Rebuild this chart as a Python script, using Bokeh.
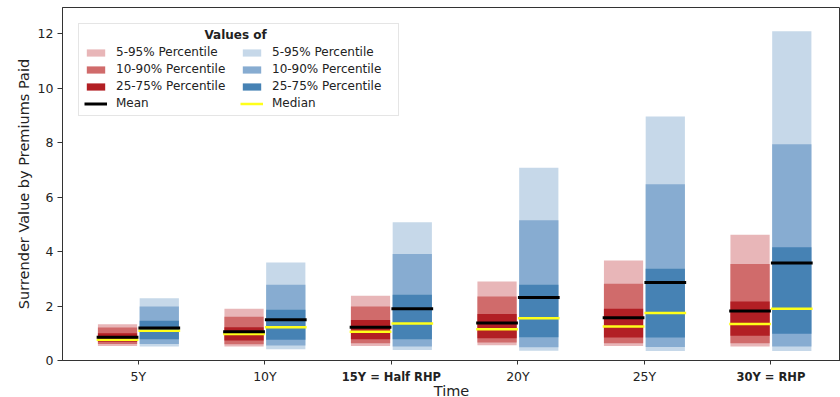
from bokeh.plotting import figure
from bokeh.layouts import column
from bokeh.models import Range1d, Legend, LegendItem, Label, FixedTicker
from bokeh.core.properties import value
from bokeh.embed import file_html
from bokeh.resources import INLINE

# ---------------- data ----------------
times = ["5Y", "10Y", "15Y = Half RHP", "20Y", "25Y", "30Y = RHP"]
bold_ticks = [False, False, True, False, False, True]
y_ticks = [0, 2, 4, 6, 8, 10, 12]

red_p5 = [0.53, 0.51, 0.53, 0.56, 0.53, 0.51]
red_p10 = [0.61, 0.60, 0.63, 0.66, 0.63, 0.63]
red_p25 = [0.69, 0.73, 0.78, 0.82, 0.84, 0.91]
red_p75 = [1.00, 1.22, 1.49, 1.71, 1.90, 2.17]
red_p90 = [1.21, 1.61, 1.98, 2.35, 2.82, 3.54]
red_p95 = [1.33, 1.90, 2.38, 2.90, 3.67, 4.62]
red_mean = [0.85, 1.06, 1.22, 1.38, 1.57, 1.82]
red_median = [0.76, 0.97, 1.06, 1.15, 1.25, 1.34]

blue_p5 = [0.51, 0.41, 0.39, 0.36, 0.35, 0.35]
blue_p10 = [0.61, 0.55, 0.51, 0.49, 0.50, 0.51]
blue_p25 = [0.78, 0.76, 0.78, 0.85, 0.84, 0.98]
blue_p75 = [1.46, 1.86, 2.41, 2.78, 3.37, 4.16]
blue_p90 = [1.98, 2.78, 3.91, 5.15, 6.47, 7.94]
blue_p95 = [2.29, 3.60, 5.08, 7.08, 8.96, 12.09]
blue_mean = [1.19, 1.50, 1.90, 2.31, 2.86, 3.58]
blue_median = [1.09, 1.22, 1.36, 1.55, 1.74, 1.90]

legend_title = "Values of"
x_title = "Time"
y_title = "Surrender Value by Premiums Paid"

# ---------------- style / layout ----------------
FONT = "DejaVu Sans"
TXT = "#222222"
AX = "#333333"
RED = ["#e8b6b8", "#d06b6b", "#b21f24"]
BLUE = ["#c6d8e9", "#87acd1", "#4682b4"]
OFF = 0.165
BW = 0.31

xs = list(range(len(times)))
xr = [x - OFF for x in xs]
xb = [x + OFF for x in xs]
x_range = Range1d(-0.6, 5.55)

p = figure(width=840, height=368, output_backend="svg", toolbar_location=None,
           x_range=x_range, y_range=Range1d(0, 12.96),
           min_border_left=62, min_border_right=0, min_border_top=7, min_border_bottom=8)
p.background_fill_color = "white"
p.border_fill_color = "white"
p.outline_line_color = AX
p.outline_line_width = 1
p.xgrid.visible = False
p.ygrid.visible = False

def bars(x, lo, hi, col):
    return p.vbar(x=x, width=BW, bottom=lo, top=hi, fill_color=col, line_color=None)

r5 = bars(xr, red_p5, red_p95, RED[0])
r10 = bars(xr, red_p10, red_p90, RED[1])
r25 = bars(xr, red_p25, red_p75, RED[2])
b5 = bars(xb, blue_p5, blue_p95, BLUE[0])
b10 = bars(xb, blue_p10, blue_p90, BLUE[1])
b25 = bars(xb, blue_p25, blue_p75, BLUE[2])

half = BW / 2 + 0.01
med_r = p.segment(x0=[x - half for x in xr], x1=[x + half for x in xr], y0=red_median, y1=red_median,
                  line_color="#ffff1a", line_width=2.5)
med_b = p.segment(x0=[x - half for x in xb], x1=[x + half for x in xb], y0=blue_median, y1=blue_median,
                  line_color="#ffff1a", line_width=2.5)
mean_r = p.segment(x0=[x - half for x in xr], x1=[x + half for x in xr], y0=red_mean, y1=red_mean,
                   line_color="black", line_width=3)
mean_b = p.segment(x0=[x - half for x in xb], x1=[x + half for x in xb], y0=blue_mean, y1=blue_mean,
                   line_color="black", line_width=3)

# x axis: ticks only (labels drawn in the strip below so two of them can be bold)
xa = p.xaxis[0]
xa.ticker = FixedTicker(ticks=xs)
xa.major_label_overrides = {x: "" for x in xs}
xa.major_label_text_font_size = "0px"
xa.major_label_standoff = 0
xa.minor_tick_line_color = None
xa.major_tick_in = 0
xa.major_tick_out = 4
xa.axis_line_color = AX
xa.major_tick_line_color = AX

ya = p.yaxis[0]
ya.ticker = FixedTicker(ticks=y_ticks)
ya.axis_label = y_title
ya.minor_tick_line_color = None
ya.major_tick_in = 0
ya.major_tick_out = 5
ya.major_label_standoff = 4
ya.axis_line_color = AX
ya.major_tick_line_color = AX
ya.major_label_text_font = FONT
ya.major_label_text_font_size = "12.5px"
ya.major_label_text_color = TXT
ya.axis_label_text_font = FONT
ya.axis_label_text_font_size = "14.5px"
ya.axis_label_text_font_style = "normal"
ya.axis_label_text_color = TXT
ya.axis_label_standoff = 3

legend = Legend(items=[
    LegendItem(label="5-95% Percentile", renderers=[r5]),
    LegendItem(label="10-90% Percentile", renderers=[r10]),
    LegendItem(label="25-75% Percentile", renderers=[r25]),
    LegendItem(label="Mean", renderers=[mean_r]),
    LegendItem(label="5-95% Percentile", renderers=[b5]),
    LegendItem(label="10-90% Percentile", renderers=[b10]),
    LegendItem(label="25-75% Percentile", renderers=[b25]),
    LegendItem(label="Median", renderers=[med_b]),
], location="top_left", nrows=4, orientation="vertical")
legend.title = " "
legend.title_text_font = FONT
legend.title_text_font_size = "12px"
legend.title_standoff = 2
legend.label_text_font = FONT
legend.label_text_font_size = "12px"
legend.label_text_color = TXT
legend.glyph_width = 23
legend.glyph_height = 9
legend.label_height = 14
legend.label_width = 121
legend.label_standoff = 9
legend.spacing = 3
legend.padding = 5
legend.margin = 16
legend.border_line_color = "#cccccc"
legend.background_fill_alpha = 0.0
p.add_layout(legend)

p.add_layout(Label(x=0.768, y=11.96, text=legend_title, text_align="center", text_baseline="middle",
                   text_font=FONT, text_font_size="12px", text_font_style="bold", text_color=TXT,
                   level="overlay"))

# ---------------- strip below: tick labels (two bold) and x title ----------------
q = figure(width=840, height=29, output_backend="svg", toolbar_location=None,
           x_range=x_range, y_range=Range1d(0, 29), x_axis_location=None, y_axis_location=None,
           min_border_left=62, min_border_right=0, min_border_top=0, min_border_bottom=0)
q.outline_line_color = None
q.xgrid.visible = False
q.ygrid.visible = False
q.background_fill_color = "white"
q.border_fill_color = "white"
q.text(x=xs, y=[21] * len(xs), text=times,
       text_font=value(FONT),
       text_font_size=["11.5px" if b else "12.5px" for b in bold_ticks],
       text_font_style=["bold" if b else "normal" for b in bold_ticks],
       text_color=TXT, text_align="center", text_baseline="middle")
q.text(x=[(x_range.start + x_range.end) / 2], y=[7], text=[x_title],
       text_font=value(FONT), text_font_size=value("14.5px"),
       text_color=TXT, text_align="center", text_baseline="middle")

open("out.html", "w").write(file_html(column(p, q, spacing=0), INLINE))
